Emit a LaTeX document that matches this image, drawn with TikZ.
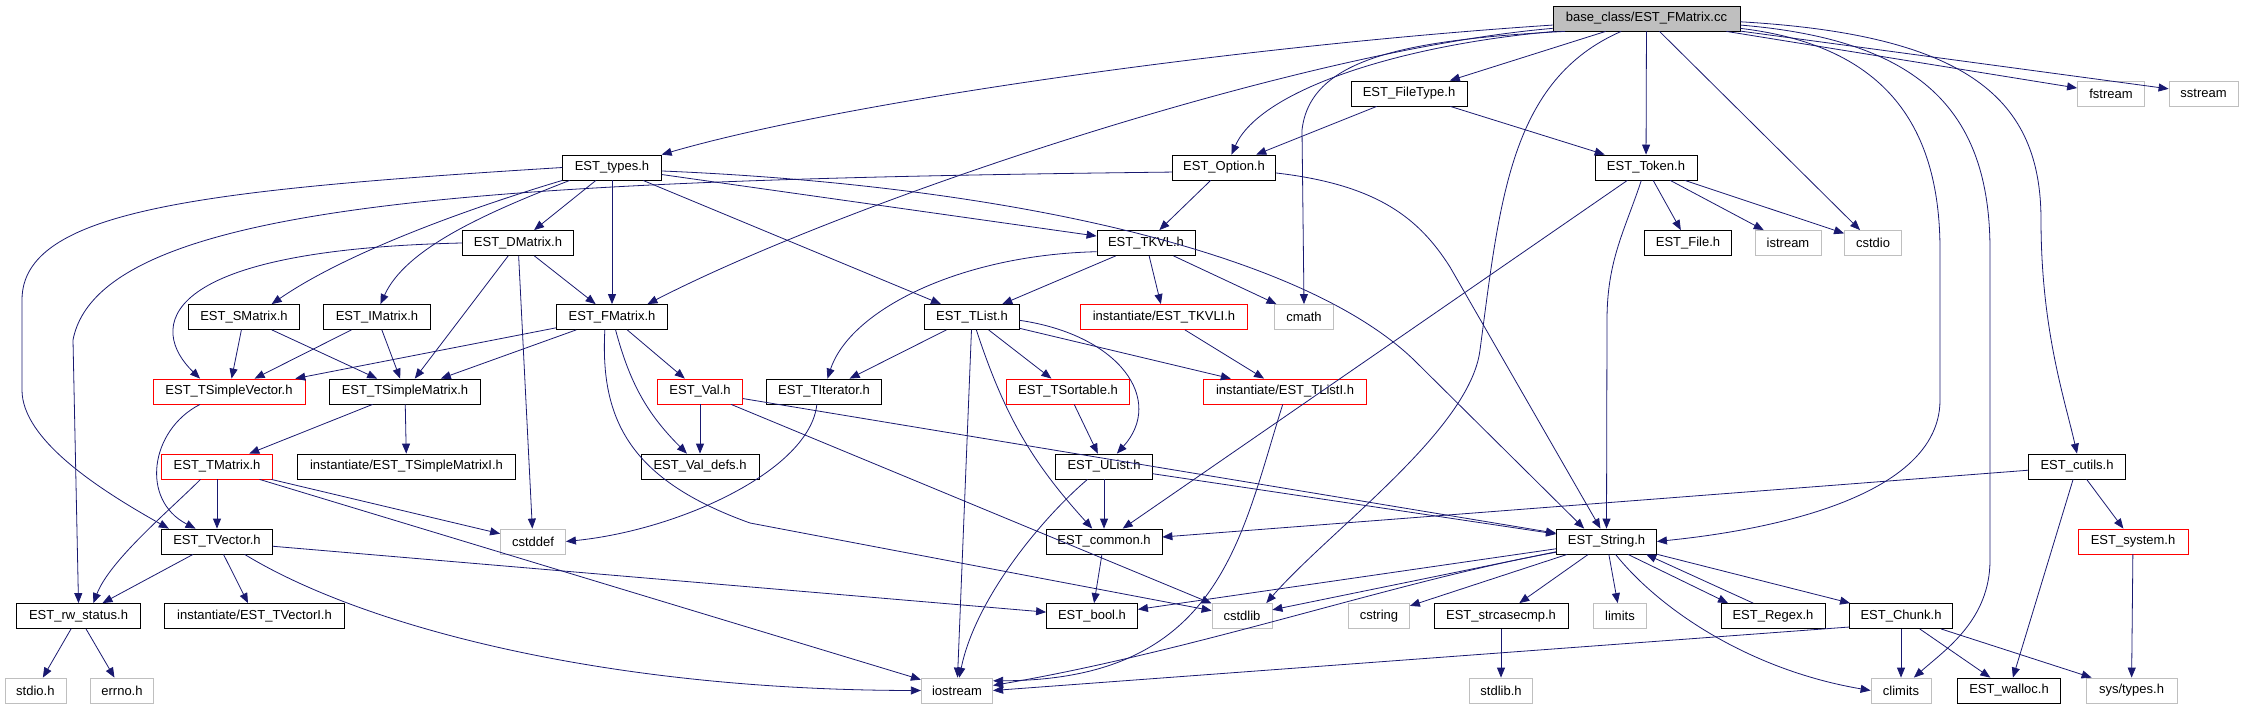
\documentclass[tikz,border=0pt]{standalone}
\usepackage{fontspec}
\setmainfont{Liberation Sans}
\usetikzlibrary{arrows.meta,calc}
\usepackage{xcolor}
\definecolor{incl}{HTML}{191970}
\definecolor{sysgray}{HTML}{BFBFBF}

\begin{document}
\begin{tikzpicture}[x=1pt,y=-1pt,
  box/.style={rectangle, minimum height=25pt, inner sep=0pt, line width=0.8pt, font=\fontsize{13}{15}\selectfont},
  hdr/.style={box, draw=black},
  hdrred/.style={box, draw=red},
  sys/.style={box, draw=sysgray},
  root/.style={box, draw=black, fill=sysgray},
  inc/.style={draw=incl, line width=0.8pt, -{Triangle[length=10pt,width=8pt]}}]
  \useasboundingbox (0,0) rectangle (2244,709);

  \node[root, minimum width=187pt] (cc) at (1646.5,18.5) {base\_class/EST\_FMatrix.cc};
  \node[hdr, minimum width=116pt] (filetype) at (1409,93.5) {EST\_FileType.h};
  \node[sys, minimum width=67pt] (fstream) at (2111,93.5) {fstream};
  \node[sys, minimum width=69pt] (sstream) at (2203.5,93.5) {sstream};
  \node[hdr, minimum width=98.5pt] (types) at (612,167.5) {EST\_types.h};
  \node[hdr, minimum width=103.5pt] (option) at (1224,167.5) {EST\_Option.h};
  \node[hdr, minimum width=102pt] (token) at (1646,167.5) {EST\_Token.h};
  \node[hdr, minimum width=111.5pt] (dmatrix) at (518,243) {EST\_DMatrix.h};
  \node[hdr, minimum width=98pt] (tkvl) at (1146,243) {EST\_TKVL.h};
  \node[hdr, minimum width=86.6pt] (file) at (1688,243) {EST\_File.h};
  \node[sys, minimum width=66pt] (istream) at (1788,243) {istream};
  \node[sys, minimum width=57pt] (cstdio) at (1873,243) {cstdio};
  \node[hdr, minimum width=111pt] (smatrix) at (244,317) {EST\_SMatrix.h};
  \node[hdr, minimum width=107pt] (imatrix) at (377,317) {EST\_IMatrix.h};
  \node[hdr, minimum width=111pt] (fmatrix) at (612,317) {EST\_FMatrix.h};
  \node[hdr, minimum width=94.5pt] (tlist) at (972,317) {EST\_TList.h};
  \node[hdrred, minimum width=167pt] (tkvli) at (1164,317) {instantiate/EST\_TKVLI.h};
  \node[sys, minimum width=59pt] (cmath) at (1304,317) {cmath};
  \node[hdrred, minimum width=152pt] (tsvector) at (229,391.5) {EST\_TSimpleVector.h};
  \node[hdr, minimum width=151pt] (tsmatrix) at (405,391.5) {EST\_TSimpleMatrix.h};
  \node[hdrred, minimum width=85pt] (val) at (700,391.5) {EST\_Val.h};
  \node[hdr, minimum width=115pt] (titer) at (824,391.5) {EST\_TIterator.h};
  \node[hdrred, minimum width=122.5pt] (tsortable) at (1068,391.5) {EST\_TSortable.h};
  \node[hdrred, minimum width=163pt] (tlisti) at (1285,391.5) {instantiate/EST\_TListI.h};
  \node[hdrred, minimum width=110.5pt] (tmatrix) at (217,466.5) {EST\_TMatrix.h};
  \node[hdr, minimum width=218pt] (tsmatrixi) at (406.5,466.5) {instantiate/EST\_TSimpleMatrixI.h};
  \node[hdr, minimum width=118pt] (valdefs) at (700,466.5) {EST\_Val\_defs.h};
  \node[hdr, minimum width=96.5pt] (ulist) at (1104,466.5) {EST\_UList.h};
  \node[hdr, minimum width=97pt] (cutils) at (2077,466.5) {EST\_cutils.h};
  \node[hdr, minimum width=111pt] (tvector) at (217,541.5) {EST\_TVector.h};
  \node[sys, minimum width=65pt] (cstddef) at (533,541.5) {cstddef};
  \node[hdr, minimum width=116pt] (common) at (1104,541.5) {EST\_common.h};
  \node[hdr, minimum width=100pt] (string) at (1606.5,541.5) {EST\_String.h};
  \node[hdrred, minimum width=110pt] (system) at (2133,541.5) {EST\_system.h};
  \node[hdr, minimum width=123.5pt] (rwstatus) at (78.5,616) {EST\_rw\_status.h};
  \node[hdr, minimum width=180pt] (tvectori) at (254.5,616) {instantiate/EST\_TVectorI.h};
  \node[hdr, minimum width=91pt] (bool) at (1092,616) {EST\_bool.h};
  \node[sys, minimum width=60pt] (cstdlib) at (1242,616) {cstdlib};
  \node[sys, minimum width=61pt] (cstring) at (1379,616) {cstring};
  \node[hdr, minimum width=134pt] (strcasecmp) at (1501,616) {EST\_strcasecmp.h};
  \node[sys, minimum width=53pt] (limits) at (1620,616) {limits};
  \node[hdr, minimum width=104pt] (regex) at (1773,616) {EST\_Regex.h};
  \node[hdr, minimum width=103pt] (chunk) at (1901,616) {EST\_Chunk.h};
  \node[sys, minimum width=61pt] (stdio) at (35.4,690.5) {stdio.h};
  \node[sys, minimum width=63pt] (errno) at (122,690.5) {errno.h};
  \node[sys, minimum width=71.4pt] (iostream) at (957,690.5) {iostream};
  \node[sys, minimum width=63pt] (stdlib) at (1501,690.5) {stdlib.h};
  \node[sys, minimum width=60pt] (climits) at (1901,690.5) {climits};
  \node[hdr, minimum width=103pt] (walloc) at (2009,690.5) {EST\_walloc.h};
  \node[sys, minimum width=91pt] (systypes) at (2131.5,690.5) {sys/types.h};

  \draw[inc] (cc.184) .. controls (1250,45) and (850,100) .. (types.north east);
  \draw[inc] (cc.186) .. controls (1300,50) and (850,200) .. (fmatrix.20);
  \draw[inc] (cc.188) .. controls (1400,45) and (1260,90) .. (option.60);
  \draw[inc] (cc.189) .. controls (1400,40) and (1310,60) .. (1302,130) -- (cmath.north);
  \draw[inc] (cc) -- (filetype);
  \draw[inc] (cc) -- (token);
  \draw[inc] (cc) -- (cstdio);
  \draw[inc] (cc) -- (fstream);
  \draw[inc] (cc) -- (sstream);
  \draw[inc] (cc.207) .. controls (1510,80) and (1500,200) .. (1480,350) .. controls (1470,430) and (1330,530) .. (cstdlib.28);
  \draw[inc] (cc.354) .. controls (1880,45) and (1940,120) .. (1940,250) -- (1940,400) .. controls (1940,510) and (1720,535) .. (string.east);
  \draw[inc] (cc.356) .. controls (1920,40) and (1990,110) .. (1990,250) -- (1990,560) .. controls (1990,620) and (1945,650) .. (climits.45);
  \draw[inc] (cc.358) .. controls (1970,35) and (2041,100) .. (2041,220) .. controls (2041,330) and (2065,400) .. (cutils.north);

  \draw[inc] (filetype) -- (option);
  \draw[inc] (filetype) -- (token);

  \draw[inc] (types.west) .. controls (200,190) and (22,210) .. (22,300) -- (22,390) .. controls (22,440) and (100,490) .. (tvector.165);
  \draw[inc] (types.south west) .. controls (480,205) and (350,250) .. (smatrix.25);
  \draw[inc] (types.197) .. controls (480,215) and (405,250) .. (imatrix.75);
  \draw[inc] (types) -- (dmatrix);
  \draw[inc] (types) -- (fmatrix);
  \draw[inc] (types) -- (tlist);
  \draw[inc] (types) -- (tkvl);
  \draw[inc] (types.356) .. controls (1000,185) and (1300,250) .. (1414,360) -- (string.150);

  \draw[inc] (option) -- (tkvl);
  \draw[inc] (option.354) .. controls (1380,185) and (1420,220) .. (1450,267) -- (string.115);
  \draw[inc] (option.185) .. controls (500,180) and (100,200) .. (73,340) -- (rwstatus.north);

  \draw[inc] (token) -- (file);
  \draw[inc] (token) -- (istream);
  \draw[inc] (token) -- (cstdio);
  \draw[inc] (token) -- (common);
  \draw[inc] (token.250) .. controls (1625,230) and (1607,260) .. (1607,320) -- (string.north);

  \draw[inc] (dmatrix) -- (fmatrix);
  \draw[inc] (dmatrix) -- (tsmatrix);
  \draw[inc] (dmatrix) -- (cstddef);
  \draw[inc] (dmatrix.west) .. controls (150,250) and (150,330) .. (tsvector.156);

  \draw[inc] (tkvl) -- (tlist);
  \draw[inc] (tkvl) -- (tkvli);
  \draw[inc] (tkvl) -- (cmath);
  \draw[inc] (tkvl.190) .. controls (960,255) and (850,310) .. (titer.75);

  \draw[inc] (smatrix) -- (tsvector);
  \draw[inc] (smatrix) -- (tsmatrix);
  \draw[inc] (imatrix) -- (tsvector);
  \draw[inc] (imatrix) -- (tsmatrix);
  \draw[inc] (fmatrix) -- (tsvector);
  \draw[inc] (fmatrix) -- (tsmatrix);
  \draw[inc] (fmatrix) -- (val);
  \draw[inc] (fmatrix) to[bend right=15] (valdefs);
  \draw[inc] (fmatrix.241) .. controls (600,420) and (630,480) .. (750,523) -- (cstdlib.170);

  \draw[inc] (tlist) -- (titer);
  \draw[inc] (tlist) -- (tsortable);
  \draw[inc] (tlist) -- (tlisti);
  \draw[inc] (tlist) -- (iostream);
  \draw[inc] (tlist) to[bend right=12] (common);
  \draw[inc] (tlist.356) .. controls (1120,335) and (1165,400) .. (ulist.45);
  \draw[inc] (tkvli) -- (tlisti);

  \draw[inc] (val) -- (valdefs);
  \draw[inc] (val) -- (string);
  \draw[inc] (val) -- (cstdlib);
  \draw[inc] (titer.241) .. controls (810,470) and (680,530) .. (cstddef.east);
  \draw[inc] (tsortable) -- (ulist);
  \draw[inc] (tlisti.260) .. controls (1240,540) and (1220,680) .. (iostream.15);
  \draw[inc] (tsvector.204) .. controls (150,430) and (140,500) .. (tvector.149);
  \draw[inc] (tsmatrix) -- (tmatrix);
  \draw[inc] (tsmatrix) -- (tsmatrixi);

  \draw[inc] (tmatrix) -- (tvector);
  \draw[inc] (tmatrix.218) .. controls (170,510) and (110,560) .. (rwstatus.41);
  \draw[inc] (tmatrix) -- (cstddef);
  \draw[inc] (tmatrix) -- (iostream);
  \draw[inc] (ulist) -- (common);
  \draw[inc] (ulist.218) .. controls (1040,520) and (975,600) .. (iostream.80);
  \draw[inc] (ulist) -- (string);
  \draw[inc] (cutils) -- (common);
  \draw[inc] (cutils) -- (walloc);
  \draw[inc] (cutils) -- (system);

  \draw[inc] (tvector) -- (rwstatus);
  \draw[inc] (tvector) -- (tvectori);
  \draw[inc] (tvector) -- (bool);
  \draw[inc] (tvector.335) .. controls (360,625) and (600,690) .. (iostream.west);
  \draw[inc] (common) -- (bool);
  \draw[inc] (string) -- (bool);
  \draw[inc] (string) -- (cstdlib);
  \draw[inc] (string) -- (cstring);
  \draw[inc] (string) -- (strcasecmp);
  \draw[inc] (string) -- (limits);
  \draw[inc] (string.329) -- (regex.164);
  \draw[inc] (regex.147) -- (string.342);
  \draw[inc] (string) -- (chunk);
  \draw[inc] (string.192) .. controls (1400,580) and (1200,650) .. (iostream.8);
  \draw[inc] (string.305) .. controls (1660,610) and (1750,670) .. (climits.west);
  \draw[inc] (system) -- (systypes);

  \draw[inc] (rwstatus) -- (stdio);
  \draw[inc] (rwstatus) -- (errno);
  \draw[inc] (strcasecmp) -- (stdlib);
  \draw[inc] (chunk.192) -- (iostream.east);
  \draw[inc] (chunk) -- (climits);
  \draw[inc] (chunk) -- (walloc);
  \draw[inc] (chunk) -- (systypes);
\end{tikzpicture}
\end{document}
